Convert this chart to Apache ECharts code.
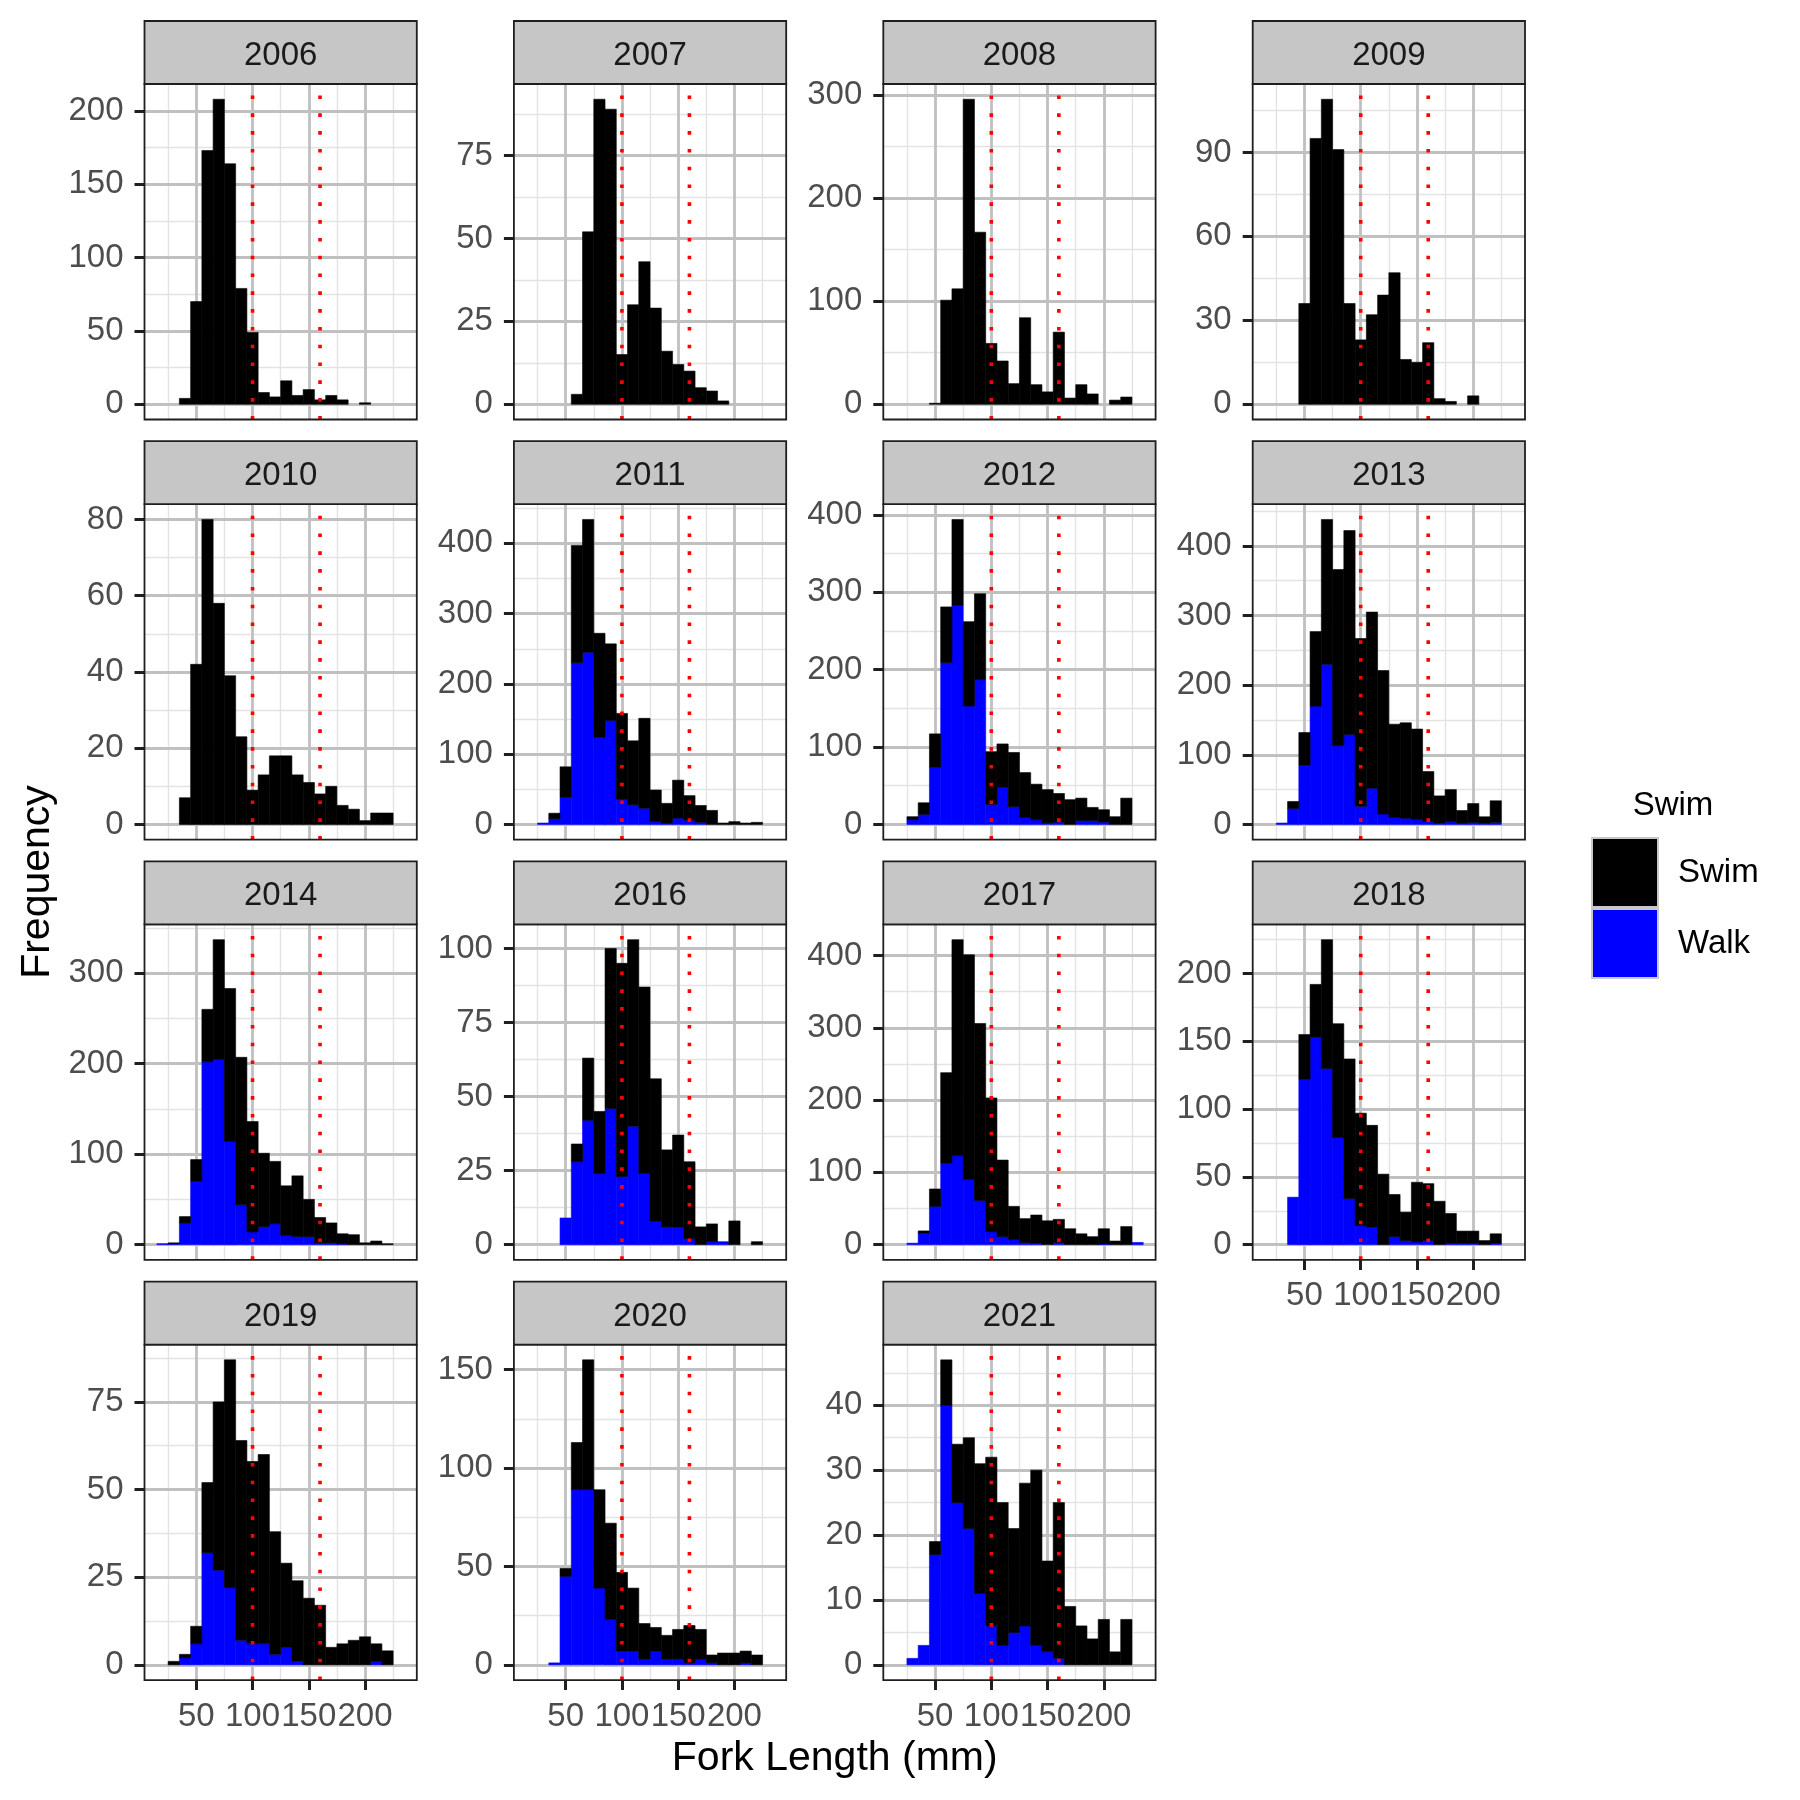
<!DOCTYPE html>
<html>
<head>
<meta charset="utf-8">
<script src="https://cdn.jsdelivr.net/npm/echarts@6.0.0/dist/echarts.min.js"></script>
<style>html,body{margin:0;padding:0;background:#fff}#chart{width:1800px;height:1800px}</style>
</head>
<body>
<div id="chart"></div>
<script>
// ---------------- DATA ----------------
const BIN_CENTERS = [20,30,40,50,60,70,80,90,100,110,120,130,140,150,160,170,180,190,200,210,220,230];
const BIN_WIDTH = 10;
const X_TICKS = [50,100,150,200];
const VLINES = [100,160];
const YEARS = ['2006','2007','2008','2009','2010','2011','2012','2013','2014','2016','2017','2018','2019','2020','2021'];

const walk2006 = [0,0,0,0,0,0,0,0,0,0,0,0,0,0,0,0,0,0,0,0,0,0];
const swim2006 = [0,0,4,70,173,208,164,79,49,8,5,16,6,10,3,6,3,0,1,0,0,0];
const walk2007 = [0,0,0,0,0,0,0,0,0,0,0,0,0,0,0,0,0,0,0,0,0,0];
const swim2007 = [0,0,0,0,3,52,92,89,15,30,43,29,16,12,10,5,4,1,0,0,0,0];
const walk2008 = [0,0,0,0,0,0,0,0,0,0,0,0,0,0,0,0,0,0,0,0,0,0];
const swim2008 = [0,0,0,1,101,112,296,167,59,42,20,84,19,12,70,6,19,10,0,4,7,0];
const walk2009 = [0,0,0,0,0,0,0,0,0,0,0,0,0,0,0,0,0,0,0,0,0,0];
const swim2009 = [0,0,0,36,95,109,91,36,23,32,39,47,16,15,22,2,1,0,3,0,0,0];
const walk2010 = [0,0,0,0,0,0,0,0,0,0,0,0,0,0,0,0,0,0,0,0,0,0];
const swim2010 = [0,0,7,42,80,58,39,23,9,13,18,18,13,11,8,10,5,4,1,3,3,0];
const walk2011 = [0,2,8,39,230,245,124,148,36,28,23,4,2,9,6,3,0,0,0,0,0,0];
const swim2011 = [0,0,8,43,167,189,148,109,122,91,128,45,28,54,35,24,20,2,4,2,3,0];
const walk2012 = [0,6,13,74,209,283,153,187,26,48,23,9,6,2,3,0,5,5,3,0,0,0];
const swim2012 = [0,4,15,43,72,111,109,111,68,56,70,58,46,43,37,32,29,17,16,10,34,0];
const walk2013 = [0,2,23,85,170,230,113,129,26,52,15,10,9,7,4,2,4,2,3,2,3,0];
const swim2013 = [0,0,10,47,107,208,253,293,241,253,206,134,137,130,72,39,46,18,27,9,31,0];
const walk2014 = [1,1,24,70,202,205,114,44,14,20,23,10,9,9,2,2,1,0,0,0,0,0];
const swim2014 = [0,1,7,24,58,132,169,163,122,81,69,55,67,41,28,22,11,11,2,4,1,0];
const walk2016 = [0,0,0,9,28,42,24,46,23,40,24,8,6,6,2,0,1,1,0,0,0,0];
const swim2016 = [0,0,0,0,6,21,21,54,72,63,63,48,26,31,26,6,6,0,8,0,1,0];
const walk2017 = [0,2,16,53,113,123,90,61,18,11,7,3,2,0,3,0,0,0,1,0,0,3];
const swim2017 = [0,0,3,24,125,299,311,245,185,106,46,33,39,33,32,22,15,11,21,5,25,0];
const walk2018 = [0,0,35,122,153,130,79,34,14,13,0,6,3,2,3,0,1,1,1,0,1,0];
const swim2018 = [0,0,0,33,39,95,84,103,83,75,52,31,21,44,42,32,22,9,9,3,7,0];
const walk2019 = [0,0,2,6,32,27,22,7,6,6,3,5,1,0,0,0,0,0,0,1,0,0];
const swim2019 = [0,1,1,5,20,48,65,57,52,54,35,24,23,19,17,5,6,7,8,5,4,0];
const walk2020 = [0,0,1,45,89,89,39,23,7,7,3,7,3,3,1,3,1,0,0,1,0,0];
const swim2020 = [0,0,0,4,24,66,50,49,40,32,18,12,12,15,19,15,4,6,6,6,5,0];
const walk2021 = [0,1,3,17,40,25,21,11,6,3,5,6,3,2,1,0,0,0,0,0,0,0];
const swim2021 = [0,0,0,2,7,9,14,20,26,22,16,22,27,14,24,9,6,4,7,2,7,0];

const yTicks2006 = [0,50,100,150,200];
const yTicks2007 = [0,25,50,75];
const yTicks2008 = [0,100,200,300];
const yTicks2009 = [0,30,60,90];
const yTicks2010 = [0,20,40,60,80];
const yTicks2011 = [0,100,200,300,400];
const yTicks2012 = [0,100,200,300,400];
const yTicks2013 = [0,100,200,300,400];
const yTicks2014 = [0,100,200,300];
const yTicks2016 = [0,25,50,75,100];
const yTicks2017 = [0,100,200,300,400];
const yTicks2018 = [0,50,100,150,200];
const yTicks2019 = [0,25,50,75];
const yTicks2020 = [0,50,100,150];
const yTicks2021 = [0,10,20,30,40];

const WALK = [walk2006,walk2007,walk2008,walk2009,walk2010,walk2011,walk2012,walk2013,walk2014,walk2016,walk2017,walk2018,walk2019,walk2020,walk2021];
const SWIM = [swim2006,swim2007,swim2008,swim2009,swim2010,swim2011,swim2012,swim2013,swim2014,swim2016,swim2017,swim2018,swim2019,swim2020,swim2021];
const YTICKS = [yTicks2006,yTicks2007,yTicks2008,yTicks2009,yTicks2010,yTicks2011,yTicks2012,yTicks2013,yTicks2014,yTicks2016,yTicks2017,yTicks2018,yTicks2019,yTicks2020,yTicks2021];

// ---------------- LAYOUT / STYLE ----------------
const FONT = 'Liberation Sans, Arial, Helvetica, sans-serif';
const COL_LEFT = [144.5, 513.9, 883.3, 1252.7];
const ROW_TOP = [84, 504.2, 924.4, 1344.6];
const PW = 272.3, PH = 335.5, STRIP_H = 63;
const MAJOR_COL = '#c0c0c0', MINOR_COL = '#e3e3e3', STRIP_FILL = '#c6c6c6', BORDER = '#1f1f1f';
const AXIS_TXT = '#4d4d4d';

function minorOf(major, lo, hi) {
  const step = major[1] - major[0];
  const out = [];
  for (let v = major[0] - step / 2; v <= hi; v += step) if (v >= lo) out.push(v);
  return out;
}

const binLo = BIN_CENTERS[0] - BIN_WIDTH / 2;
const binHi = BIN_CENTERS[BIN_CENTERS.length - 1] + BIN_WIDTH / 2;
const XMIN = binLo - 0.05 * (binHi - binLo);
const XMAX = binHi + 0.05 * (binHi - binLo);
const X_MINOR = minorOf(X_TICKS, XMIN, XMAX);

function barItem(params, api) {
  const c = api.value(0), y0 = api.value(1), y1 = api.value(2);
  const a = api.coord([c - BIN_WIDTH / 2, y0]);
  const b = api.coord([c + BIN_WIDTH / 2, y1]);
  const col = api.visual('color');
  return {type: 'rect', shape: {x: a[0], y: b[1], width: b[0] - a[0], height: a[1] - b[1]},
          style: {fill: col, stroke: col, lineWidth: 0.6}};
}
function vlineItem(params, api) {
  const x = api.coord([api.value(0), 0])[0];
  const cs = params.coordSys;
  return {type: 'line', shape: {x1: x, y1: cs.y + cs.height, x2: x, y2: cs.y},
          style: {stroke: '#ff0000', lineWidth: 3.6, lineDash: [3.6, 14.2], fill: null}};
}

const grid = [], xAxis = [], yAxis = [], series = [], graphic = [];

YEARS.forEach((yr, i) => {
  const r = Math.floor(i / 4), c = i % 4;
  const left = COL_LEFT[c], top = ROW_TOP[r];
  const walk = WALK[i], swim = SWIM[i];
  const totals = walk.map((w, k) => w + swim[k]);
  const maxT = Math.max(...totals);
  const ymin = -0.05 * maxT, ymax = 1.05 * maxT;
  const yMaj = YTICKS[i];
  const yMin = minorOf(yMaj, ymin, ymax);
  const hasX = i >= 11;

  grid.push({left: left, top: top, width: PW, height: PH, show: false, containLabel: false, outerBoundsMode: 'none'});

  xAxis.push({type: 'value', gridIndex: i, min: XMIN, max: XMAX, position: 'bottom', z: 0,
    axisLine: {show: false, onZero: false},
    axisTick: {show: false, customValues: X_MINOR},
    axisLabel: {show: false, customValues: X_MINOR},
    splitLine: {show: true, lineStyle: {color: MINOR_COL, width: 1.4}}});
  xAxis.push({type: 'value', gridIndex: i, min: XMIN, max: XMAX, position: 'bottom', z: 1,
    axisLine: {show: false, onZero: false},
    axisTick: {show: hasX, customValues: X_TICKS, length: 10, lineStyle: {color: BORDER, width: 3}},
    axisLabel: {show: hasX, customValues: X_TICKS, margin: 20, fontSize: 33, color: AXIS_TXT, fontFamily: FONT, hideOverlap: false},
    splitLine: {show: true, lineStyle: {color: MAJOR_COL, width: 2.8}}});

  yAxis.push({type: 'value', gridIndex: i, min: ymin, max: ymax, position: 'left', z: 0,
    axisLine: {show: false, onZero: false},
    axisTick: {show: false, customValues: yMin},
    axisLabel: {show: false, customValues: yMin},
    splitLine: {show: true, lineStyle: {color: MINOR_COL, width: 1.4}}});
  yAxis.push({type: 'value', gridIndex: i, min: ymin, max: ymax, position: 'left', z: 1,
    axisLine: {show: false, onZero: false},
    axisTick: {show: true, customValues: yMaj, length: 10, lineStyle: {color: BORDER, width: 3}},
    axisLabel: {show: true, customValues: yMaj, margin: 21, fontSize: 33, color: AXIS_TXT, fontFamily: FONT, padding: [5, 0, 0, 0]},
    splitLine: {show: true, lineStyle: {color: MAJOR_COL, width: 2.8}}});

  const xi = 2 * i + 1, yi = 2 * i + 1;
  series.push({type: 'custom', name: 'Walk', xAxisIndex: xi, yAxisIndex: yi, renderItem: barItem,
    itemStyle: {color: '#0000ff'}, encode: {x: 0, y: [1, 2]}, z: 3, silent: true,
    data: BIN_CENTERS.map((bc, k) => [bc, 0, walk[k]]).filter(d => d[2] > d[1])});
  series.push({type: 'custom', name: 'Swim', xAxisIndex: xi, yAxisIndex: yi, renderItem: barItem,
    itemStyle: {color: '#000000'}, encode: {x: 0, y: [1, 2]}, z: 3, silent: true,
    data: BIN_CENTERS.map((bc, k) => [bc, walk[k], walk[k] + swim[k]]).filter(d => d[2] > d[1])});
  series.push({type: 'custom', name: 'vline', xAxisIndex: xi, yAxisIndex: yi, renderItem: vlineItem,
    encode: {x: 0, y: 1}, z: 4, silent: true, data: VLINES.map(v => [v, 0])});

  // panel border
  graphic.push({type: 'rect', z: 20, silent: true, shape: {x: left, y: top, width: PW, height: PH},
    style: {fill: 'none', stroke: BORDER, lineWidth: 1.8}});
  // strip
  graphic.push({type: 'rect', z: 20, silent: true, shape: {x: left, y: top - STRIP_H, width: PW, height: STRIP_H},
    style: {fill: STRIP_FILL, stroke: BORDER, lineWidth: 1.8}});
  graphic.push({type: 'text', z: 21, silent: true, x: left + PW / 2, y: top - STRIP_H / 2 + 3.5,
    style: {text: yr, fontSize: 33, fontFamily: FONT, fill: '#1a1a1a', align: 'center', verticalAlign: 'middle', textAlign: 'center', textVerticalAlign: 'middle'}});
});

// axis titles & legend title
graphic.push({type: 'text', silent: true, x: 38, y: 882, rotation: Math.PI / 2,
  style: {text: 'Frequency', fontSize: 41, fontFamily: FONT, fill: '#000', align: 'center', verticalAlign: 'middle', textAlign: 'center', textVerticalAlign: 'middle'}});
graphic.push({type: 'text', silent: true, x: 834.7, y: 1759,
  style: {text: 'Fork Length (mm)', fontSize: 41, fontFamily: FONT, fill: '#000', align: 'center', verticalAlign: 'middle', textAlign: 'center', textVerticalAlign: 'middle'}});
graphic.push({type: 'text', silent: true, x: 1673, y: 806,
  style: {text: 'Swim', fontSize: 33, fontFamily: FONT, fill: '#000', align: 'center', verticalAlign: 'middle', textAlign: 'center', textVerticalAlign: 'middle'}});

const chart = echarts.init(document.getElementById('chart'), null, {renderer: 'canvas'});
chart.setOption({
  animation: false,
  backgroundColor: '#ffffff',
  grid: grid, xAxis: xAxis, yAxis: yAxis, series: series, graphic: graphic,
  legend: {data: ['Swim', 'Walk'], orient: 'vertical', left: 1591, top: 837, itemWidth: 66, itemHeight: 69,
    itemGap: 0, icon: 'rect', selectedMode: false, padding: 0,
    itemStyle: {borderColor: '#c8c8c8', borderWidth: 2},
    textStyle: {fontSize: 33, color: '#000', fontFamily: FONT, padding: [0, 0, 0, 15]}}
});
</script>
</body>
</html>
